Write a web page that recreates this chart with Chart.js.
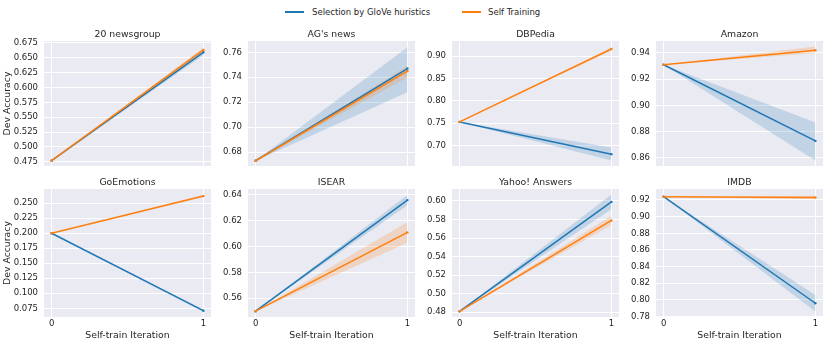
<!DOCTYPE html>
<html>
<head>
<meta charset="utf-8">
<script src="https://cdn.jsdelivr.net/npm/chart.js@4/dist/chart.umd.min.js"></script>
<style>
  body { margin: 0; width: 831px; height: 345px; background: #fff; position: relative; overflow: hidden; font-family: 'DejaVu Sans', sans-serif; color: #262626; }
  canvas { position: absolute; }
  .legend-line { position: absolute; top: 11px; width: 19px; height: 1.5px; }
  .legend-text { position: absolute; top: 6px; font-size: 8.5px; line-height: 12px; white-space: nowrap; }
</style>
</head>
<body>
<div class="legend-line" style="left:285px; background:#1f77b4"></div>
<div class="legend-text" style="left:312px">Selection by GloVe huristics</div>
<div class="legend-line" style="left:462px; background:#ff7f0e"></div>
<div class="legend-text" style="left:488px">Self Training</div>

<script>
// data: value at iteration 0 and iteration 1
const titles = ['20 newsgroup', "AG's news", 'DBPedia', 'Amazon', 'GoEmotions', 'ISEAR', 'Yahoo! Answers', 'IMDB']
const iterations = [0, 1]

const gloveMean = [[0.477, 0.659], [0.673, 0.747], [0.753, 0.681], [0.931, 0.873], [0.200, 0.071], [0.550, 0.636], [0.481, 0.599], [0.924, 0.796]]
const gloveLow  = [[0.477, 0.654], [0.673, 0.728], [0.753, 0.667], [0.931, 0.858], [0.200, 0.069], [0.550, 0.632], [0.481, 0.591], [0.924, 0.786]]
const gloveHigh = [[0.477, 0.664], [0.673, 0.764], [0.753, 0.696], [0.931, 0.887], [0.200, 0.072], [0.550, 0.640], [0.481, 0.607], [0.924, 0.806]]

const selfMean = [[0.477, 0.663], [0.673, 0.745], [0.753, 0.916], [0.931, 0.942], [0.200, 0.262], [0.550, 0.611], [0.481, 0.579], [0.924, 0.923]]
const selfLow  = [[0.477, 0.659], [0.673, 0.740], [0.753, 0.913], [0.931, 0.940], [0.200, 0.260], [0.550, 0.603], [0.481, 0.574], [0.924, 0.921]]
const selfHigh = [[0.477, 0.667], [0.673, 0.749], [0.753, 0.919], [0.931, 0.945], [0.200, 0.264], [0.550, 0.619], [0.481, 0.584], [0.924, 0.925]]

const yLimits = [[0.468, 0.678], [0.6688, 0.7691], [0.6545, 0.934], [0.8539, 0.9491], [0.0605, 0.2738], [0.5455, 0.6446], [0.4749, 0.6129], [0.7795, 0.9332]]
const yTicks = [
    [0.475, 0.5, 0.525, 0.55, 0.575, 0.6, 0.625, 0.65, 0.675],
    [0.68, 0.7, 0.72, 0.74, 0.76],
    [0.7, 0.75, 0.8, 0.85, 0.9],
    [0.86, 0.88, 0.9, 0.92, 0.94],
    [0.075, 0.1, 0.125, 0.15, 0.175, 0.2, 0.225, 0.25],
    [0.56, 0.58, 0.6, 0.62, 0.64],
    [0.48, 0.5, 0.52, 0.54, 0.56, 0.58, 0.6],
    [0.78, 0.8, 0.82, 0.84, 0.86, 0.88, 0.9, 0.92]
]

// layout of the 2x4 grid
const panelLeft = [44, 248, 452, 656]
const panelTop = [41, 189]
const panelHeight = [129, 128]
const plotWidth = 171
const yAxisWidth = 44
const titleSpace = 13
const xAxisSpace = [0, 28]

const blue = '#1f77b4'
const orange = '#ff7f0e'
const textColor = '#262626'
const family = "'DejaVu Sans', sans-serif"

const plotBg = {
    id: 'plotBg',
    beforeDraw(chart) {
        const { ctx, chartArea: a } = chart
        ctx.save()
        ctx.fillStyle = '#eaeaf2'
        ctx.fillRect(a.left, a.top, a.right - a.left, a.bottom - a.top)
        ctx.restore()
    }
}

function points(pair) {
    return iterations.map((x, j) => ({ x, y: pair[j] }))
}

function decimals(list) {
    return Math.max(...list.map(v => (String(v).split('.')[1] || '').length))
}

function lineSet(label, color, pair) {
    return {
        label, data: points(pair), borderColor: color, backgroundColor: color,
        borderWidth: 1.5, pointRadius: 1.2, pointBorderWidth: 0, fill: false
    }
}

function bandSet(pair, fill, color) {
    return { data: points(pair), borderWidth: 0, pointRadius: 0, borderColor: 'transparent', backgroundColor: color, fill }
}

titles.forEach((title, i) => {
    const col = i % 4
    const row = Math.floor(i / 4)
    const w = yAxisWidth + plotWidth
    const h = titleSpace + panelHeight[row] + xAxisSpace[row]

    const canvas = document.createElement('canvas')
    canvas.width = w
    canvas.height = h
    canvas.style.left = (panelLeft[col] - yAxisWidth) + 'px'
    canvas.style.top = (panelTop[row] - titleSpace) + 'px'
    canvas.style.width = w + 'px'
    canvas.style.height = h + 'px'
    document.body.appendChild(canvas)

    const dec = decimals(yTicks[i])

    new Chart(canvas.getContext('2d'), {
        type: 'line',
        data: {
            datasets: [
                lineSet('Self Training', orange, selfMean[i]),
                lineSet('Selection by GloVe huristics', blue, gloveMean[i]),
                bandSet(selfLow[i], false, 'rgba(255,127,14,0.2)'),
                bandSet(selfHigh[i], '-1', 'rgba(255,127,14,0.2)'),
                bandSet(gloveLow[i], false, 'rgba(31,119,180,0.2)'),
                bandSet(gloveHigh[i], '-1', 'rgba(31,119,180,0.2)')
            ]
        },
        options: {
            responsive: false,
            animation: false,
            devicePixelRatio: 1,
            layout: { padding: 0 },
            plugins: {
                legend: { display: false },
                tooltip: { enabled: false },
                title: {
                    display: true, text: title, color: textColor, fullSize: false,
                    font: { family, size: 9.3, weight: 'normal', lineHeight: '13px' },
                    padding: 0
                }
            },
            scales: {
                x: {
                    type: 'linear', min: -0.05, max: 1.05,
                    afterBuildTicks: axis => { axis.ticks = iterations.map(v => ({ value: v })) },
                    afterFit: axis => {
                        axis.height = xAxisSpace[row]
                        axis.paddingLeft = 0
                        axis.paddingRight = 0
                    },
                    grid: { color: '#ffffff', lineWidth: 1, drawTicks: false },
                    border: { display: false },
                    ticks: {
                        display: row === 1, padding: 2, maxRotation: 0, autoSkip: false,
                        color: textColor, font: { family, size: 8.5 },
                        callback: v => String(v)
                    },
                    title: {
                        display: row === 1, text: 'Self-train Iteration', color: textColor,
                        font: { family, size: 9.3 }, padding: { top: 0, bottom: 3.7 }
                    }
                },
                y: {
                    min: yLimits[i][0], max: yLimits[i][1],
                    afterBuildTicks: axis => { axis.ticks = yTicks[i].map(v => ({ value: v })) },
                    afterFit: axis => {
                        axis.width = yAxisWidth
                        axis.paddingTop = 0
                        axis.paddingBottom = 0
                    },
                    grid: { color: '#ffffff', lineWidth: 1, drawTicks: false },
                    border: { display: false },
                    ticks: {
                        padding: 6, color: textColor, font: { family, size: 8.5 },
                        callback: v => v.toFixed(dec)
                    },
                    title: {
                        display: col === 0, text: 'Dev Accuracy', color: textColor,
                        font: { family, size: 9.3 }, padding: { top: 1.7, bottom: 0 }
                    }
                }
            }
        },
        plugins: [plotBg]
    })
})
</script>
</body>
</html>
